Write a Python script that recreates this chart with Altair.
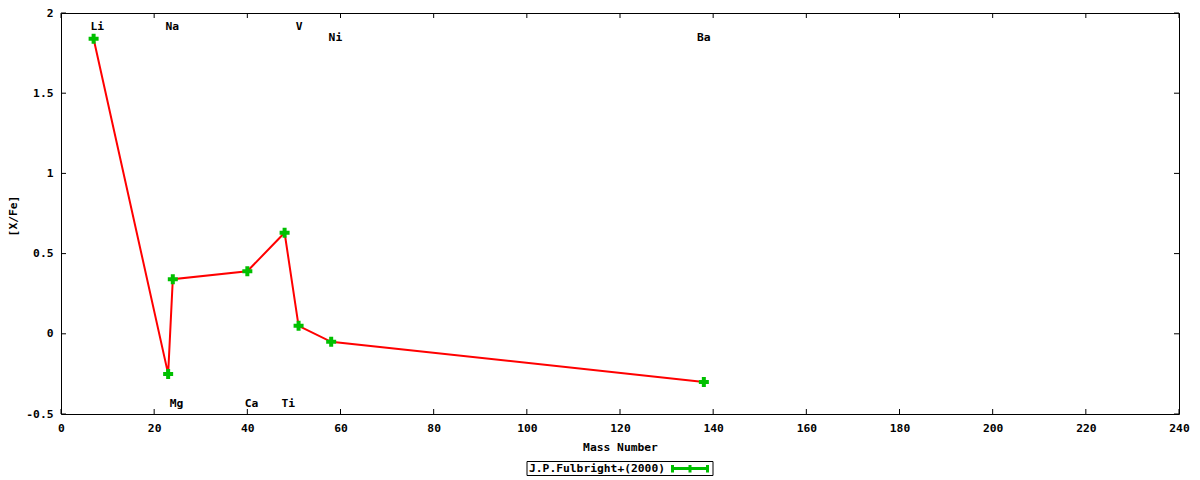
import altair as alt
import pandas as pd

# Data
mass = [7, 23, 24, 40, 48, 51, 58, 138]
xfe = [1.84, -0.25, 0.34, 0.39, 0.63, 0.05, -0.05, -0.30]

label_names = ["Li", "Na", "Mg", "Ca", "Ti", "V", "Ni", "Ba"]
label_x = [7.8, 23.9, 24.8, 40.9, 48.8, 51.1, 58.9, 138.0]
label_y = [1.92, 1.92, -0.43, -0.43, -0.43, 1.92, 1.85, 1.85]

x_ticks = [0, 20, 40, 60, 80, 100, 120, 140, 160, 180, 200, 220, 240]
y_ticks = [-0.5, 0, 0.5, 1, 1.5, 2]

legend_text = "J.P.Fulbright+(2000)"

W, H = 1118, 401
FONT = "DejaVu Sans Mono"
FS = 11.3
GREEN = "#00c000"
RED = "#ff0000"

df = pd.DataFrame({"mass": mass, "xfe": xfe})
lbl = pd.DataFrame({"name": label_names, "x": label_x, "y": label_y})
xt = pd.DataFrame({"v": x_ticks})
yt = pd.DataFrame({"v": y_ticks})

xscale = alt.Scale(domain=[0, 240], nice=False, zero=False)
yscale = alt.Scale(domain=[-0.5, 2], nice=False, zero=False)

xaxis = alt.Axis(values=x_ticks, ticks=False, grid=False, domain=False,
                 labelFont=FONT, labelFontSize=FS, labelFontWeight="bold",
                 labelColor="black", labelPadding=8, labelFlush=False,
                 title="Mass Number", titleFont=FONT, titleFontSize=FS,
                 titleFontWeight="bold", titleColor="black",
                 titleY=33, titleBaseline="middle")
yaxis = alt.Axis(values=y_ticks, ticks=False, grid=False, domain=False,
                 labelFont=FONT, labelFontSize=FS, labelFontWeight="bold",
                 labelColor="black", labelPadding=8, labelFlush=False,
                 labelExpr="toString(datum.value)",
                 title="[X/Fe]", titleFont=FONT, titleFontSize=FS,
                 titleFontWeight="bold", titleColor="black",
                 titleAngle=-90, titleX=-47.5, titleY=H / 2 + 2,
                 titleAlign="center", titleBaseline="middle")

base = alt.Chart(df)

line = base.mark_line(color=RED, strokeWidth=2, clip=True).encode(
    x=alt.X("mass:Q", scale=xscale, axis=xaxis),
    y=alt.Y("xfe:Q", scale=yscale, axis=yaxis),
)
pts = base.mark_point(shape="cross", filled=True, size=100, color=GREEN,
                      opacity=1).encode(
    x=alt.X("mass:Q", scale=xscale),
    y=alt.Y("xfe:Q", scale=yscale),
)
labels = alt.Chart(lbl).mark_text(font=FONT, fontSize=FS, fontWeight="bold",
                                  color="black", align="center",
                                  baseline="middle", dy=1).encode(
    x=alt.X("x:Q", scale=xscale),
    y=alt.Y("y:Q", scale=yscale),
    text="name:N",
)

# inward tick marks on all four sides
xt_bot = alt.Chart(xt).mark_rule(color="black", strokeWidth=1).encode(
    x=alt.X("v:Q", scale=xscale), y=alt.value(H), y2=alt.value(H - 5))
xt_top = alt.Chart(xt).mark_rule(color="black", strokeWidth=1).encode(
    x=alt.X("v:Q", scale=xscale), y=alt.value(0), y2=alt.value(5))
yt_left = alt.Chart(yt).mark_rule(color="black", strokeWidth=1).encode(
    y=alt.Y("v:Q", scale=yscale), x=alt.value(0), x2=alt.value(5))
yt_right = alt.Chart(yt).mark_rule(color="black", strokeWidth=1).encode(
    y=alt.Y("v:Q", scale=yscale), x=alt.value(W - 5), x2=alt.value(W))

# legend box below the plot
leg_df = pd.DataFrame({"t": [legend_text]})
leg_box = alt.Chart(leg_df).mark_rect(fill="white", stroke="black",
                                      strokeWidth=1, clip=False).encode(
    x=alt.value(466), x2=alt.value(652), y=alt.value(448.5), y2=alt.value(462.5))
leg_txt = alt.Chart(leg_df).mark_text(font=FONT, fontSize=FS, fontWeight="bold",
                                      color="black", align="left",
                                      baseline="middle", clip=False).encode(
    x=alt.value(468), y=alt.value(456), text="t:N")
leg_line = alt.Chart(leg_df).mark_rule(color=GREEN, strokeWidth=3,
                                       clip=False).encode(
    x=alt.value(611), x2=alt.value(647), y=alt.value(455.5))
leg_ticks_df = pd.DataFrame({"px": [611.5, 629, 646.5]})
leg_ticks = alt.Chart(leg_ticks_df).mark_rule(color=GREEN, strokeWidth=3,
                                              clip=False).encode(
    x=alt.X("px:Q", scale=None), y=alt.value(452), y2=alt.value(459.5))

chart = alt.layer(
    line, pts, labels, xt_bot, xt_top, yt_left, yt_right,
    leg_box, leg_txt, leg_line, leg_ticks,
).properties(
    width=W, height=H,
    autosize=alt.AutoSizeParams(type="none"),
    padding={"left": 53, "top": 5, "right": 12, "bottom": 63},
    background="white",
).configure_view(stroke="black", strokeWidth=1)

chart.save("out.html", embed_options={"renderer": "svg", "actions": False})
